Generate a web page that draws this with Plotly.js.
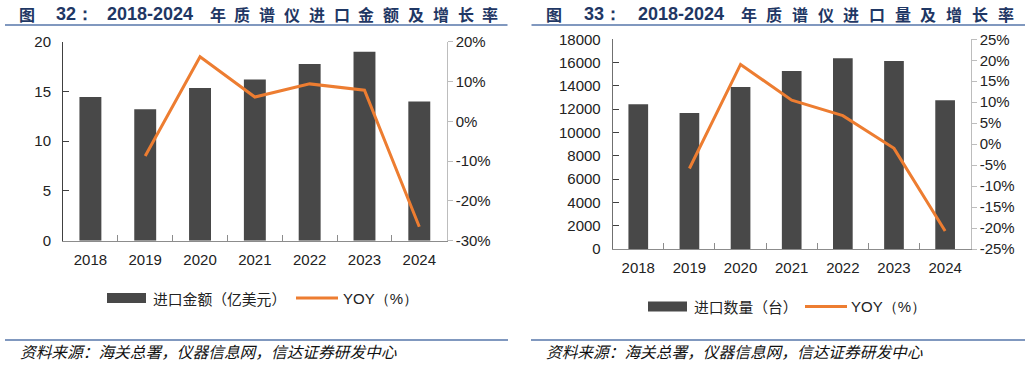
<!DOCTYPE html>
<html>
<head>
<meta charset="utf-8">
<script src="https://cdn.plot.ly/plotly-3.0.1.min.js"></script>
<style>html,body{margin:0;padding:0;background:#fff;}#chart{width:1030px;height:365px;}</style>
</head>
<body>
<div id="chart"></div>
<script>
// ---- data ----
const years = ['2018', '2019', '2020', '2021', '2022', '2023', '2024'];
const importValue = [14.45, 13.2, 15.35, 16.2, 17.75, 19.0, 14.0];      // 亿美元
const valueYoy = [null, -8.7, 16.2, 6.1, 9.4, 7.8, -26.5];              // %
const importQty = [12420, 11680, 13910, 15280, 16370, 16140, 12770];    // 台
const qtyYoy = [null, -5.8, 19.0, 10.5, 6.8, -1.0, -20.7];              // %

const valueTicks = [0, 5, 10, 15, 20];
const valuePctTicks = [-30, -20, -10, 0, 10, 20];
const valuePctLabels = ['-30%', '-20%', '-10%', '0%', '10%', '20%'];
const qtyTicks = [0, 2000, 4000, 6000, 8000, 10000, 12000, 14000, 16000, 18000];
const qtyLabels = ['0', '2000', '4000', '6000', '8000', '10000', '12000', '14000', '16000', '18000'];
const qtyPctTicks = [-25, -20, -15, -10, -5, 0, 5, 10, 15, 20, 25];
const qtyPctLabels = ['-25%', '-20%', '-15%', '-10%', '-5%', '0%', '5%', '10%', '15%', '20%', '25%'];

const title1Num = '32：';
const title2Num = '33：';
const titleYears = '2018-2024';
const title1Chars = '年质谱仪进口金额及增长率';
const title2Chars = '年质谱仪进口量及增长率';
const legendBar1 = '进口金额（亿美元）';
const legendBar2 = '进口数量（台）';
const legendLine = 'YOY（%）';
const sourceText = '资料来源：海关总署，仪器信息网，信达证券研发中心';

// ---- layout helpers ----
const W = 1030, H = 365;
const px = x => x / W;
const py = y => (H - y) / H;

const BAR = '#484848', ORANGE = '#ED7D31', NAVY = '#1f3764', RULE = '#5676aa';
const tickFont = {family: 'Liberation Sans, Arial, sans-serif', size: 15, color: '#222'};
const cjk = 'Noto Sans CJK SC, sans-serif';

const traces = [
  {type: 'bar', x: years, y: importValue, xaxis: 'x', yaxis: 'y', width: 0.4,
   marker: {color: BAR}, name: legendBar1},
  {type: 'scatter', mode: 'lines', x: years, y: valueYoy, xaxis: 'x', yaxis: 'y2',
   line: {color: ORANGE, width: 3}, name: legendLine},
  {type: 'bar', x: years, y: importQty, xaxis: 'x2', yaxis: 'y3', width: 0.385,
   marker: {color: BAR}, name: legendBar2},
  {type: 'scatter', mode: 'lines', x: years, y: qtyYoy, xaxis: 'x2', yaxis: 'y4',
   line: {color: ORANGE, width: 3}, name: legendLine}
];

const xCommon = {type: 'category', showline: true, linecolor: '#8c8c8c', linewidth: 1,
  ticks: 'inside', ticklen: 6, tickcolor: '#8c8c8c', tickson: 'boundaries',
  showgrid: false, zeroline: false, tickfont: tickFont, fixedrange: true, ticklabelstandoff: 5};
const yLeftCommon = {showline: true, linecolor: '#404040', linewidth: 1, ticks: 'inside',
  ticklen: 6, tickcolor: '#404040', showgrid: false, zeroline: false, tickfont: tickFont,
  tickmode: 'array', fixedrange: true, ticklabelstandoff: 8};
const yRightCommon = {side: 'right', showline: true, linecolor: '#bdbdbd', linewidth: 1,
  ticks: 'outside', ticklen: 5, tickcolor: '#bdbdbd', showgrid: false, zeroline: false,
  tickfont: tickFont, tickmode: 'array', fixedrange: true};

const layout = {
  width: W, height: H, margin: {l: 0, r: 0, t: 0, b: 0},
  paper_bgcolor: '#fff', plot_bgcolor: 'rgba(0,0,0,0)', showlegend: false,
  xaxis: Object.assign({}, xCommon, {domain: [px(63), px(446.7)], anchor: 'y'}),
  yaxis: Object.assign({}, yLeftCommon, {domain: [py(240.7), py(41.7)], anchor: 'x',
    range: [0, 20], tickvals: valueTicks}),
  yaxis2: Object.assign({}, yRightCommon, {overlaying: 'y', anchor: 'x',
    range: [-30, 20], tickvals: valuePctTicks, ticktext: valuePctLabels}),
  xaxis2: Object.assign({}, xCommon, {domain: [px(612.7), px(970.7)], anchor: 'y3'}),
  yaxis3: Object.assign({}, yLeftCommon, {domain: [py(249), py(39.3)], anchor: 'x2',
    range: [0, 18000], tickvals: qtyTicks, ticktext: qtyLabels, linecolor: '#707070'}),
  yaxis4: Object.assign({}, yRightCommon, {overlaying: 'y3', anchor: 'x2',
    range: [-25, 25], tickvals: qtyPctTicks, ticktext: qtyPctLabels}),
  shapes: [],
  annotations: []
};

const S = layout.shapes, A = layout.annotations;
function hline(x0, x1, y, color, w) {
  S.push({type: 'line', xref: 'paper', yref: 'paper', x0: px(x0), x1: px(x1), y0: py(y), y1: py(y),
    line: {color: color, width: w}});
}
function text(t, x, y, font, anchor) {
  A.push({text: t, xref: 'paper', yref: 'paper', x: px(x), y: py(y), xanchor: anchor || 'left',
    yanchor: 'middle', showarrow: false, font: font});
}

// title rules & bottom rules
hline(5, 507.5, 25, RULE, 1.5);
hline(531.5, 1025, 25, RULE, 1.5);
hline(5, 508, 340, RULE, 1.5);
hline(531, 1025, 340, RULE, 1.5);

// titles
function title(x0, numX, yrX, charX, pitch, num, chars) {
  const y = 13.5;
  text('图', x0, y, {family: cjk, size: 16, color: NAVY, weight: 'bold'});
  text(num, numX, y, {family: 'Liberation Sans, Arial, sans-serif', size: 18, color: NAVY, weight: 'bold'});
  text(titleYears, yrX, y, {family: 'Liberation Sans, Arial, sans-serif', size: 18, color: NAVY, weight: 'bold'});
  for (let i = 0; i < chars.length; i++) {
    text(chars[i], charX + i * pitch, y, {family: cjk, size: 16, color: NAVY, weight: 'bold'});
  }
}
title(17, 54, 105, 207.5, 24.8, title1Num, title1Chars);
title(543.5, 582, 636, 738.5, 25.7, title2Num, title2Chars);

// legends
function legend(bx, by, barLabel, lx, ltx) {
  S.push({type: 'rect', xref: 'paper', yref: 'paper', x0: px(bx), x1: px(bx + 39),
    y0: py(by + 5), y1: py(by - 5), fillcolor: BAR, line: {width: 0}});
  text(barLabel, bx + 44, by, {family: cjk, size: 14.8, color: '#222'});
  hline(lx, lx + 42, by, ORANGE, 3);
  text(legendLine, ltx, by, {family: 'Liberation Sans, Arial, sans-serif', size: 15, color: '#222'});
}
legend(107, 298, legendBar1, 296, 341);
legend(648, 306.5, legendBar2, 805, 849);

// sources
const srcFont = {family: cjk, size: 15.7, color: '#111', style: 'italic'};
text(sourceText, 18, 351.5, srcFont);
text(sourceText, 544, 351.5, srcFont);

Plotly.newPlot('chart', traces, layout, {displayModeBar: false, staticPlot: true});
</script>
</body>
</html>
